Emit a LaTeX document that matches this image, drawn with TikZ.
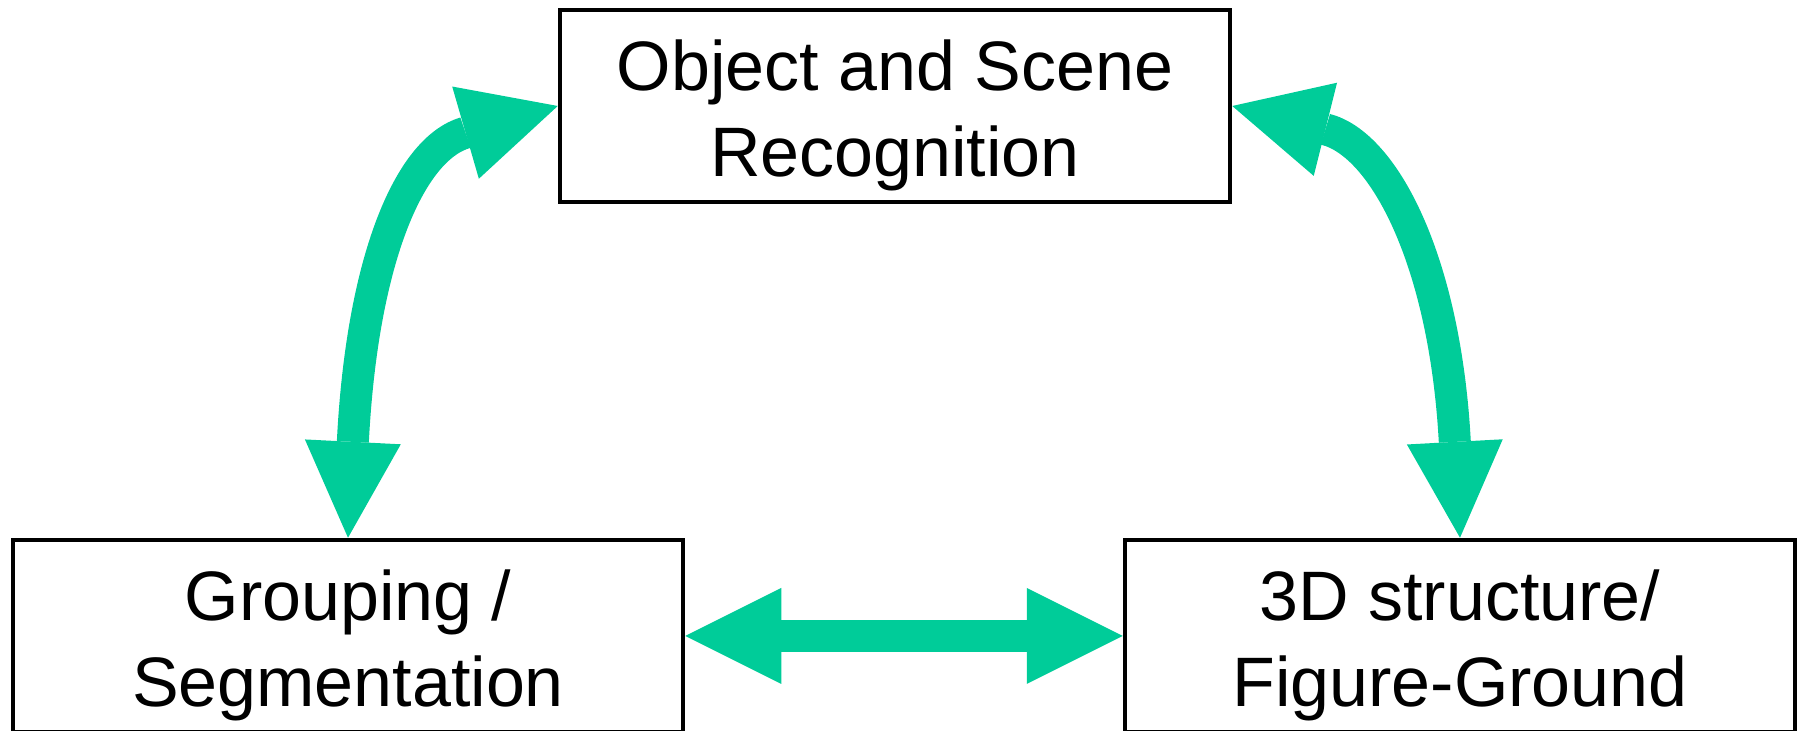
\documentclass[tikz,border=0pt]{standalone}
\usepackage{fontspec}
\setmainfont{Liberation Sans}
\usepackage{tikz}
\usetikzlibrary{arrows.meta}
\definecolor{linkgreen}{RGB}{0,204,153}
% taller first line, so the two lines sit a little low in the box
\newcommand{\firstline}{\rule{0pt}{35pt}}

\begin{document}
\begin{tikzpicture}[
    x=0.5pt, y=0.5pt,
    >={Triangle[length=48pt,width=48pt,line width=0pt]},
    stage/.style={rectangle,draw,line width=2.25pt,minimum width=335pt,minimum height=96pt,
      align=center,inner sep=0pt,font=\fontsize{35}{43}\selectfont},
    link/.style={<->,draw=linkgreen,line width=16pt}
  ]
    \useasboundingbox (0,0) rectangle (1799,731);

    \node[stage] (recog) at (895,625) {\firstline Object and Scene\\Recognition};
    \node[stage] (group) at (348,95)  {\firstline Grouping /\\Segmentation};
    \node[stage] (depth) at (1460,95) {\firstline 3D structure/\\Figure-Ground};

    % two-way links between the stages
    \draw[link] (group.north) .. controls (362,470) and (409,582) .. (recog.west);
    \draw[link] (depth.north) .. controls (1445,470) and (1384,587) .. (recog.east);
    \draw[link] (group.east) -- (depth.west);
  \end{tikzpicture}
\end{document}
